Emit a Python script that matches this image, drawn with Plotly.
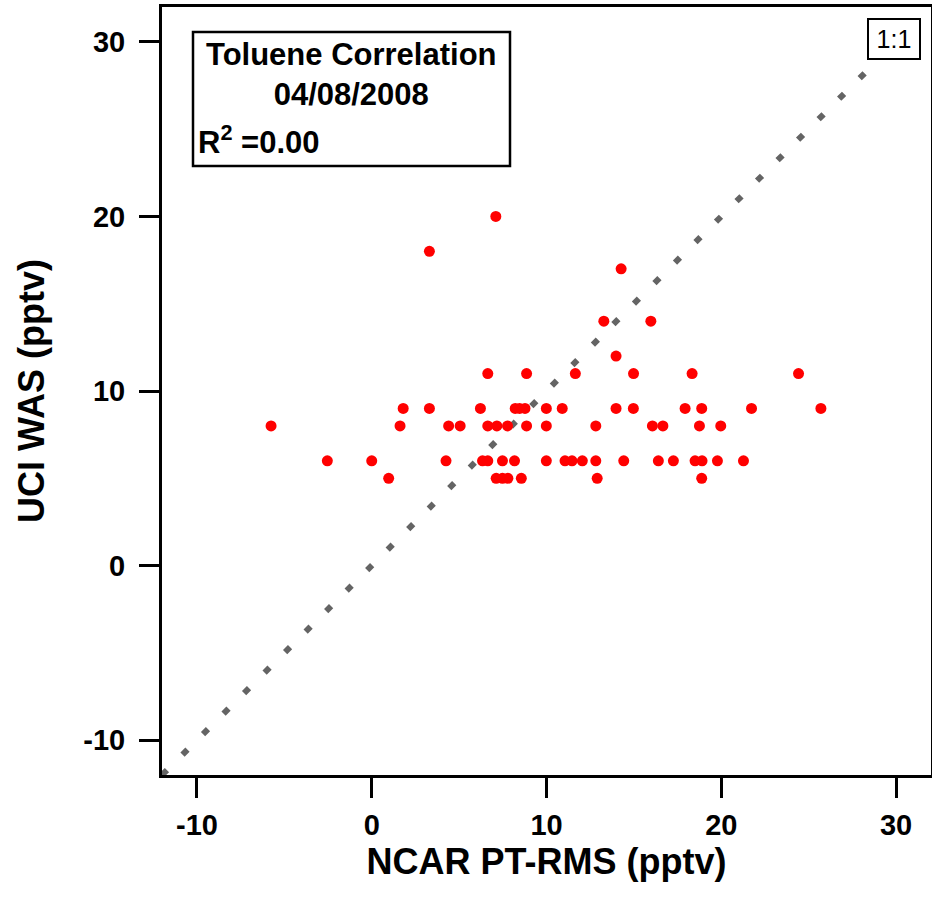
import plotly.graph_objects as go

# ---- data ----
ncar_x = [7.1, 3.3, 14.27, 13.28, 15.97, 13.98,
          6.64, 8.86, 11.65, 14.98, 18.33, 24.42,
          1.8, 3.3, 6.22, 8.21, 8.46, 8.77, 9.99, 10.9, 13.98, 14.97, 17.93, 18.88, 21.73, 25.7,
          -5.76, 1.62, 4.4, 5.06, 6.64, 7.16, 7.77, 8.86, 9.99, 12.82, 16.06, 16.66, 18.75, 19.97,
          -2.54, 0.0, 4.25, 6.34, 6.64, 7.48, 8.17, 9.99, 11.06, 11.46, 12.05, 12.82, 14.42, 16.4,
          17.26, 18.5, 18.9, 19.78, 21.27,
          0.97, 7.12, 7.48, 7.79, 8.56, 12.9, 18.88]
uci_y = [20, 18, 17, 14, 14, 12,
         11, 11, 11, 11, 11, 11,
         9, 9, 9, 9, 9, 9, 9, 9, 9, 9, 9, 9, 9, 9,
         8, 8, 8, 8, 8, 8, 8, 8, 8, 8, 8, 8, 8, 8,
         6, 6, 6, 6, 6, 6, 6, 6, 6, 6, 6, 6, 6, 6,
         6, 6, 6, 6, 6,
         5, 5, 5, 5, 5, 5, 5]
one_to_one = [-12, 29]
x_range = [-12, 32]
y_range = [-12, 32]
tick_vals = [-10, 0, 10, 20, 30]
tick_text = ["-10", "0", "10", "20", "30"]

FONT = "Liberation Sans, Arial, Helvetica, sans-serif"

fig = go.Figure()
fig.add_trace(go.Scatter(
    x=one_to_one, y=one_to_one, mode="lines",
    line=dict(color="rgb(100,100,100)", width=6, dash="7px,22px"),
    hoverinfo="skip", showlegend=False))
fig.add_trace(go.Scatter(
    x=ncar_x, y=uci_y, mode="markers",
    marker=dict(color="#ff0000", size=11, line=dict(width=0)),
    showlegend=False))

W, H = 932, 901
L, T = 162, 7
pw, ph = 769, 768
B = H - T - ph
R = W - L - pw


def px(xp):
    return (xp - L) / pw


def py(yp):
    return (T + ph - yp) / ph


axis_common = dict(
    showgrid=False, zeroline=False, showline=True, linecolor="black",
    linewidth=3, mirror=True, ticks="outside", ticklen=20, tickwidth=2.5,
    tickcolor="black", tickvals=tick_vals, ticktext=tick_text,
    tickfont=dict(family=FONT, size=29, color="black", weight="bold"),
)

fig.update_layout(
    width=W, height=H,
    margin=dict(l=L, r=R, t=T, b=B, autoexpand=False),
    paper_bgcolor="white", plot_bgcolor="white",
    xaxis=dict(range=x_range, **axis_common, ticklabelstandoff=2,
               title=dict(text="NCAR PT-RMS (pptv)", standoff=0,
                          font=dict(family=FONT, size=36, color="black", weight="bold"))),
    yaxis=dict(range=y_range, **axis_common, ticklabelstandoff=8,
               title=dict(text="UCI WAS (pptv)", standoff=28,
                          font=dict(family=FONT, size=36, color="black", weight="bold"))),
    shapes=[dict(type="rect", xref="paper", yref="paper",
                 x0=px(193), x1=px(510), y0=py(166), y1=py(32),
                 line=dict(color="black", width=2.5), fillcolor="white", layer="above")],
    annotations=[
        dict(xref="paper", yref="paper", x=px(351), y=py(75), xanchor="center", yanchor="middle",
             text="Toluene Correlation<br>04/08/2008", showarrow=False, align="center",
             font=dict(family=FONT, size=31, color="black", weight="bold")),
        dict(xref="paper", yref="paper", x=px(196), y=py(140), xanchor="left", yanchor="middle",
             text="R<sup>2</sup> =0.00", showarrow=False, align="left",
             font=dict(family=FONT, size=31, color="black", weight="bold")),
        dict(xref="paper", yref="paper", x=px(894), y=py(39), xanchor="center", yanchor="middle",
             text="1:1", showarrow=False, width=48, height=36,
             bordercolor="black", borderwidth=2, bgcolor="white",
             font=dict(family=FONT, size=25, color="black")),
    ],
)

fig.write_html(
    "out.html",
    config={"displayModeBar": False},
    post_script="document.body.style.margin='0';document.body.style.overflow='hidden';",
)
